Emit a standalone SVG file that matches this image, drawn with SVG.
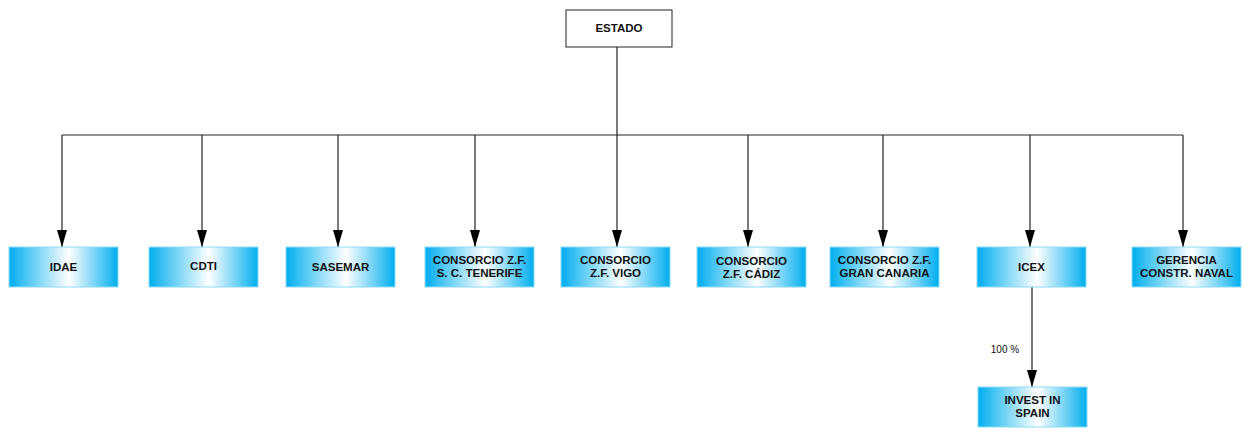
<svg xmlns="http://www.w3.org/2000/svg" width="1244" height="428" viewBox="0 0 1244 428">
<style>
.box{fill:url(#g);stroke:#8fdcf7;stroke-width:1}
.t{font-family:"Liberation Sans",Arial,sans-serif;font-weight:bold;font-size:11.5px;fill:#111;text-anchor:middle}
.c{stroke:#222;stroke-width:1.2;fill:none}
.a{stroke:#222;stroke-width:1.2;fill:none;marker-end:url(#ar)}
</style>
<defs>
<linearGradient id="g" x1="0" y1="0" x2="1" y2="0">
<stop offset="0" stop-color="#00aeee"/>
<stop offset="0.55" stop-color="#ffffff"/>
<stop offset="1" stop-color="#00aeee"/>
</linearGradient>
<marker id="ar" markerWidth="17" markerHeight="10" refX="17" refY="5" orient="auto" markerUnits="userSpaceOnUse" viewBox="0 0 17 10">
<path d="M0,0 L17,5 L0,10 Z" fill="#000"/>
</marker>
</defs>
<rect width="1244" height="428" fill="#fff"/>
<g id="connectors">
<path class="c" d="M617,47 V135 M62,135 H1183"/>
<path class="a" d="M62,135 V247"/>
<path class="a" d="M202,135 V247"/>
<path class="a" d="M338,135 V247"/>
<path class="a" d="M475,135 V247"/>
<path class="a" d="M617,135 V247"/>
<path class="a" d="M748,135 V247"/>
<path class="a" d="M883,135 V247"/>
<path class="a" d="M1030,135 V247"/>
<path class="a" d="M1183,135 V247"/>
<path class="a" d="M1032,287 V387"/>
<text x="1005" y="353" style="font-family:'Liberation Sans',Arial,sans-serif;font-size:10px;fill:#111;text-anchor:middle">100 %</text>
</g>
<g id="estado"><rect x="566" y="10" width="106" height="37" fill="#fff" stroke="#222" stroke-width="1"/><text class="t" x="619" y="32">ESTADO</text></g>
<g id="idae"><rect class="box" x="9" y="247" width="109" height="40"/><text class="t" x="63.5" y="271">IDAE</text></g>
<g id="cdti"><rect class="box" x="149" y="247" width="109" height="40"/><text class="t" x="203.5" y="270">CDTI</text></g>
<g id="sasemar"><rect class="box" x="286" y="247" width="109" height="40"/><text class="t" x="340.5" y="271">SASEMAR</text></g>
<g id="tenerife"><rect class="box" x="425" y="247" width="109" height="40"/><text class="t" x="479.5" y="264">CONSORCIO Z.F.</text><text class="t" x="479.5" y="277">S. C. TENERIFE</text></g>
<g id="vigo"><rect class="box" x="561" y="247" width="109" height="40"/><text class="t" x="615.5" y="264">CONSORCIO</text><text class="t" x="615.5" y="277">Z.F. VIGO</text></g>
<g id="cadiz"><rect class="box" x="697" y="247" width="109" height="40"/><text class="t" x="751.5" y="265">CONSORCIO</text><text class="t" x="751.5" y="278">Z.F. CÁDIZ</text></g>
<g id="grancanaria"><rect class="box" x="830" y="247" width="109" height="40"/><text class="t" x="884.5" y="264">CONSORCIO Z.F.</text><text class="t" x="884.5" y="277">GRAN CANARIA</text></g>
<g id="icex"><rect class="box" x="977" y="247" width="109" height="40"/><text class="t" x="1031.5" y="271">ICEX</text></g>
<g id="gerencia"><rect class="box" x="1132" y="247" width="109" height="40"/><text class="t" x="1186.5" y="264">GERENCIA</text><text class="t" x="1186.5" y="277">CONSTR. NAVAL</text></g>
<g id="invest"><rect class="box" x="978" y="387" width="109" height="40"/><text class="t" x="1032.5" y="404">INVEST IN</text><text class="t" x="1032.5" y="417">SPAIN</text></g>
</svg>
